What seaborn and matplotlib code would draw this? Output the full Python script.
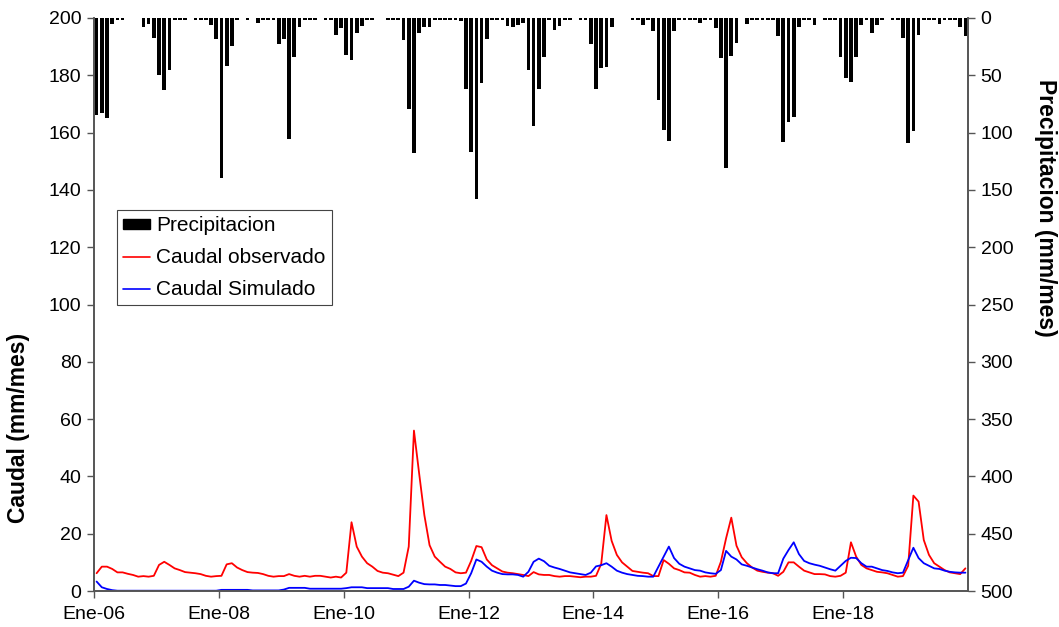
import numpy as np
import pandas as pd
import matplotlib
matplotlib.use("Agg")
import matplotlib.pyplot as plt
from matplotlib.patches import Patch
from matplotlib.lines import Line2D
import seaborn as sns

# ---------------- data (monthly, Jan-2006 .. Dec-2019) ----------------
tick_labels = ["Ene-06", "Ene-08", "Ene-10", "Ene-12", "Ene-14", "Ene-16", "Ene-18"]

precipitacion = [
    85, 83, 87, 5, 2, 2, 0, 0, 0, 7.5, 5, 17.5,
    50, 63, 45, 2, 2, 2, 0, 2, 2, 2, 6, 18,
    140, 42, 24, 2, 0, 2, 0, 4.5, 2, 2, 2, 23,
    18, 106, 34, 7.5, 2, 2, 2, 0, 2, 2, 15, 9,
    32, 37, 13, 7, 2, 2, 0, 0, 2, 2, 2, 19,
    79, 118, 13, 7.5, 7.5, 2, 2, 2, 2, 2, 3, 62,
    117, 158, 57, 18.5, 2, 2, 2, 7, 8, 6, 4.5, 45,
    94, 62, 34, 2, 10.5, 7, 2, 2, 0, 2, 2, 22.5,
    62, 44, 42.5, 7.5, 0, 0, 0, 2, 2, 6, 2, 11,
    71.5, 97.5, 107, 11, 2, 2, 2, 2, 4.5, 2, 2, 9,
    35, 131, 33.5, 22, 0, 5.5, 2, 2, 2, 2, 2, 15.5,
    108.5, 90.5, 86, 7.5, 2, 2, 6, 0, 2, 2, 2, 34,
    52.5, 56, 34, 6, 2, 13, 6, 2, 0, 2, 2, 17.5,
    109, 99, 15, 2, 2, 2, 5.5, 2, 2, 2, 8, 15.5,
]

caudal_observado = [
    6.2, 8.5, 8.5, 7.7, 6.5, 6.5, 6.0, 5.6, 5.0, 5.2, 5.0, 5.3,
    9.1, 10.2, 9.1, 7.9, 7.3, 6.6, 6.4, 6.2, 5.9, 5.3, 5.0, 5.2,
    5.3, 9.3, 9.7, 8.2, 7.3, 6.6, 6.4, 6.3, 5.9, 5.3, 5.0, 5.2,
    5.2, 5.9, 5.3, 5.0, 5.3, 5.0, 5.3, 5.3, 5.0, 4.7, 5.0, 4.7,
    6.4, 24.0, 15.5, 12.0, 9.7, 8.5, 7.0, 6.4, 6.2, 5.7, 5.2, 6.4,
    15.5, 56.0, 41.0, 26.5, 16.0, 12.0, 10.2, 8.5, 7.7, 6.5, 6.2, 6.4,
    10.5, 15.7, 15.3, 11.0, 9.0, 7.9, 6.8, 6.4, 6.2, 5.9, 5.6, 5.2,
    6.6, 5.8, 5.6, 5.6, 5.2, 5.0, 5.2, 5.2, 5.0, 4.8, 5.0, 5.0,
    5.3, 9.5, 26.5, 17.5, 12.6, 10.0, 8.5, 7.0, 6.7, 6.4, 6.2, 5.2,
    5.2, 10.8, 9.5, 7.9, 7.3, 6.5, 6.4, 5.6, 5.0, 5.2, 5.0, 5.3,
    10.2, 18.4, 25.6, 15.8, 11.8, 9.7, 8.2, 7.1, 6.7, 6.4, 6.2, 5.3,
    6.7, 10.0, 10.0, 8.5, 7.1, 6.5, 5.9, 5.9, 5.8, 5.2, 5.0, 5.3,
    6.4, 17.0, 12.0, 9.1, 7.9, 7.3, 6.7, 6.5, 6.2, 5.6, 5.0, 5.2,
    8.8, 33.3, 31.2, 17.8, 12.6, 9.7, 8.5, 7.3, 6.5, 6.2, 5.9, 7.9,
]

caudal_simulado = [
    3.3, 1.3, 0.7, 0.3, 0.1, 0.1, 0.1, 0.1, 0.1, 0.1, 0.1, 0.1,
    0.1, 0.1, 0.1, 0.1, 0.1, 0.1, 0.1, 0.1, 0.1, 0.1, 0.1, 0.1,
    0.4, 0.4, 0.4, 0.4, 0.4, 0.4, 0.2, 0.2, 0.2, 0.2, 0.2, 0.2,
    0.5, 1.1, 1.1, 1.1, 1.1, 0.8, 0.8, 0.8, 0.8, 0.8, 0.8, 0.8,
    1.0, 1.3, 1.3, 1.3, 1.0, 1.0, 1.0, 1.0, 1.0, 0.7, 0.7, 0.7,
    1.5, 3.6, 2.9, 2.4, 2.3, 2.3, 2.1, 2.1, 1.9, 1.7, 1.7, 2.6,
    6.2, 11.0, 10.2, 8.5, 7.1, 6.4, 5.9, 5.8, 5.8, 5.6, 5.0, 6.7,
    10.2, 11.3, 10.4, 8.8, 8.2, 7.7, 7.1, 6.5, 6.2, 5.9, 5.6, 6.4,
    8.6, 9.0, 9.7, 8.5, 7.1, 6.4, 5.9, 5.6, 5.3, 5.2, 5.0, 5.0,
    8.5, 12.0, 15.5, 11.5, 9.5, 8.5, 7.9, 7.3, 7.1, 6.5, 6.2, 6.0,
    7.3, 14.0, 12.0, 11.0, 9.3, 8.8, 8.2, 7.6, 7.1, 6.5, 6.2, 6.2,
    11.3, 14.3, 17.0, 12.9, 10.5, 9.7, 9.2, 8.8, 8.2, 7.6, 7.1, 8.8,
    10.5, 11.6, 11.5, 9.7, 8.5, 8.5, 7.9, 7.3, 7.0, 6.5, 6.2, 6.4,
    10.8, 15.1, 11.5, 9.7, 8.8, 7.9, 7.7, 7.1, 6.7, 6.5, 6.4, 6.4,
]

# ---------------- figure ----------------
sns.set_style("ticks")
plt.rcParams["font.family"] = ["Liberation Sans", "DejaVu Sans"]

mes = np.arange(len(precipitacion))
df = pd.DataFrame({"mes": mes, "precip": precipitacion,
                   "obs": caudal_observado, "sim": caudal_simulado})

W, H = 1059, 627
fig = plt.figure(figsize=(W/100, H/100), dpi=100)
ax = fig.add_axes([94/W, 1-591/H, (968-94)/W, (591-18)/H])
ax2 = ax.twinx()

sns.lineplot(data=df, x="mes", y="obs", color="#FF0000", lw=1.3, ax=ax)
sns.lineplot(data=df, x="mes", y="sim", color="#0000FF", lw=1.3, ax=ax)

sns.barplot(data=df, x="mes", y="precip", native_scale=True, color="black",
            width=0.72, errorbar=None, ax=ax2, saturation=1, edgecolor="none")

axis_col = "#555555"
ax.set_xlim(-0.5, 167.5)
ax.set_ylim(0, 200)
ax.set_yticks(range(0, 201, 20))
ax2.set_ylim(500, 0)
ax2.set_yticks(range(0, 501, 50))
ax2.set_xlim(-0.5, 167.5)
ax.set_xticks([24*k - 0.5 for k in range(len(tick_labels))])
ax.set_xticklabels(tick_labels)

fs_tick = 14
fs_lab = 16.5
fs_leg = 15
for a in (ax, ax2):
    a.tick_params(axis="both", labelsize=fs_tick, length=5, width=1, color=axis_col,
                  labelcolor="black", direction="out")
    for s in ["left", "right", "bottom"]:
        a.spines[s].set_color(axis_col)
        a.spines[s].set_linewidth(1.2)
    a.spines["top"].set_visible(False)
    a.grid(False)
ax.tick_params(axis="y", pad=4)
ax.tick_params(axis="x", pad=6)
ax2.tick_params(axis="y", pad=4)

ax.set_xlabel("")
ax.set_ylabel("Caudal (mm/mes)", fontsize=fs_lab, fontweight="bold",
              color="black", va="center")
ax.yaxis.set_label_coords((19-94)/874, (591-428)/573)
ax2.set_ylabel("Precipitacion (mm/mes)", fontsize=fs_lab, fontweight="bold",
               rotation=270, va="center", color="black")
ax2.yaxis.set_label_coords((1045-94)/874, (591-208)/573)

handles = [Patch(facecolor="black", edgecolor="black"),
           Line2D([0], [0], color="#FF0000", lw=1.2),
           Line2D([0], [0], color="#0000FF", lw=1.2)]
labels = ["Precipitacion", "Caudal observado", "Caudal Simulado"]
leg = fig.legend(handles, labels, loc="upper left",
                 bbox_to_anchor=(117/W, 1-210/H), fontsize=fs_leg,
                 frameon=True, fancybox=False, edgecolor="#444444",
                 framealpha=1, borderpad=0.3, labelspacing=0.62,
                 handlelength=1.3, handleheight=0.4, handletextpad=0.27,
                 borderaxespad=0)
leg.get_frame().set_linewidth(0.8)
for t in leg.get_texts():
    t.set_color("black")

fig.savefig("out.png", dpi=100)
